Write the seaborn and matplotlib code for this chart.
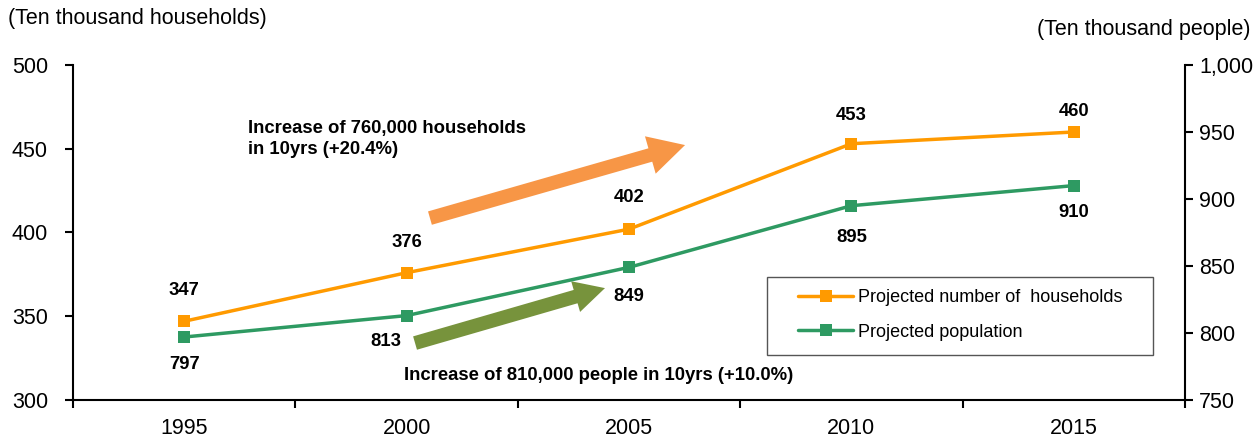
import matplotlib
matplotlib.use("Agg")
import matplotlib.pyplot as plt
from matplotlib.patches import Rectangle
import seaborn as sns
import pandas as pd
import numpy as np

years = ["1995", "2000", "2005", "2010", "2015"]
households = [347, 376, 402, 453, 460]
population = [797, 813, 849, 895, 910]

sns.set_theme(style="white")
plt.rcParams["font.family"] = ["Liberation Sans", "DejaVu Sans"]
plt.rcParams["text.color"] = "black"
plt.rcParams["xtick.color"] = "black"
plt.rcParams["ytick.color"] = "black"
plt.rcParams["axes.labelcolor"] = "black"

orange = "#FF9A00"
green = "#2E9A62"

fig = plt.figure(figsize=(12.56, 4.40), dpi=100)
ax = fig.add_axes([0.0581, 0.0909, 0.8854, 0.7614])
ax2 = ax.twinx()

df = pd.DataFrame({"pos": np.arange(len(years)), "year": years,
                   "households": households, "population": population})

sns.lineplot(data=df, x="pos", y="households", ax=ax, color=orange, lw=2.5,
             marker="s", markersize=8.5, markeredgewidth=0,
             label="Projected number of  households", legend=False)
sns.lineplot(data=df, x="pos", y="population", ax=ax2, color=green, lw=2.5,
             marker="s", markersize=8.5, markeredgewidth=0,
             label="Projected population", legend=False)

ax.set_xlim(-0.5, len(years) - 0.5)
ax.set_ylim(300, 500)
ax2.set_ylim(750, 1000)
ax.set_yticks(range(300, 501, 50))
ax2.set_yticks(range(750, 1001, 50))
ax2.set_yticklabels([f"{v:,}" for v in range(750, 1001, 50)])
ax.set_xticks(df["pos"])
ax.set_xticklabels(years)
ax.set_xticks(np.arange(-0.5, len(years), 1.0), minor=True)
ax.set_xlabel("")
ax.set_ylabel("")
ax2.set_ylabel("")

for a in (ax, ax2):
    for s in a.spines.values():
        s.set_visible(False)
ax.spines["left"].set_visible(True)
ax.spines["bottom"].set_visible(True)
ax2.spines["right"].set_visible(True)
for s in (ax.spines["left"], ax.spines["bottom"], ax2.spines["right"]):
    s.set_color("black")
    s.set_linewidth(1.5)

ax.tick_params(axis="y", which="major", direction="out", length=6, width=1.5,
               color="black", labelcolor="black", labelsize=15.5, pad=12, left=True)
ax2.tick_params(axis="y", which="major", direction="out", length=6, width=1.5,
                color="black", labelcolor="black", labelsize=15.5, pad=4, right=True)
ax.tick_params(axis="x", which="major", length=0, labelsize=15.5, labelcolor="black", pad=13)
ax.tick_params(axis="x", which="minor", direction="out", length=6, width=1.5,
               color="black", bottom=True)
ax.grid(False)
ax2.grid(False)

# data labels (offsets in points from each marker)
hh_offsets = [(0, 22), (0, 22), (0, 23), (0, 20), (0, 14.5)]
for i, v in enumerate(households):
    dx, dy = hh_offsets[i]
    ax.annotate(str(v), (i, v), xytext=(dx, dy), textcoords="offset points",
                ha="center", va="center", fontsize=13.3, fontweight="bold", color="black")
pop_offsets = [(0, -20), (-15, -19), (0, -21), (0, -23), (0, -19.5)]
for i, v in enumerate(population):
    dx, dy = pop_offsets[i]
    ax2.annotate(str(v), (i, v), xytext=(dx, dy), textcoords="offset points",
                 ha="center", va="center", fontsize=13.3, fontweight="bold", color="black")

# trend arrows with captions
ax.annotate("", xy=(2.252, 0.761), xytext=(1.105, 0.543),
            xycoords=("data", "axes fraction"), textcoords=("data", "axes fraction"),
            arrowprops=dict(arrowstyle="simple,head_width=1.4,head_length=1.3,tail_width=0.5",
                            mutation_scale=20, color="#F79646", lw=0, shrinkA=0, shrinkB=0))
ax.text(0.157, 0.779, "Increase of 760,000 households\nin 10yrs (+20.4%)",
        transform=ax.transAxes, fontsize=13.3, fontweight="bold",
        va="center", ha="left", linespacing=1.25)
ax.annotate("", xy=(1.892, 0.334), xytext=(1.038, 0.170),
            xycoords=("data", "axes fraction"), textcoords=("data", "axes fraction"),
            arrowprops=dict(arrowstyle="simple,head_width=1.15,head_length=1.1,tail_width=0.5",
                            mutation_scale=20, color="#77933C", lw=0, shrinkA=0, shrinkB=0))
ax.text(0.298, 0.072, "Increase of 810,000 people in 10yrs (+10.0%)",
        transform=ax.transAxes, fontsize=13.3, fontweight="bold",
        va="center", ha="left")

# axis unit captions
fig.text(0.006, 0.958, "(Ten thousand households)", fontsize=15.5, va="center", ha="left")
fig.text(0.996, 0.932, "(Ten thousand people)", fontsize=15.5, va="center", ha="right")

# legend: frameless entries inside a separately drawn box
ax2.add_patch(Rectangle((0.624, 0.134), 0.347, 0.233, transform=ax2.transAxes,
                        facecolor="white", edgecolor="#555555", lw=1.0, zorder=4))
h1, l1 = ax.get_legend_handles_labels()
h2, l2 = ax2.get_legend_handles_labels()
leg = ax2.legend(h1 + h2, l1 + l2, loc="upper left", bbox_to_anchor=(0.652, 0.330),
                 frameon=False, fontsize=13, handlelength=3.05,
                 handletextpad=0.25, borderpad=0, labelspacing=0.95,
                 borderaxespad=0, labelcolor="black")
leg.set_zorder(5)

fig.savefig("out.png", dpi=100)
